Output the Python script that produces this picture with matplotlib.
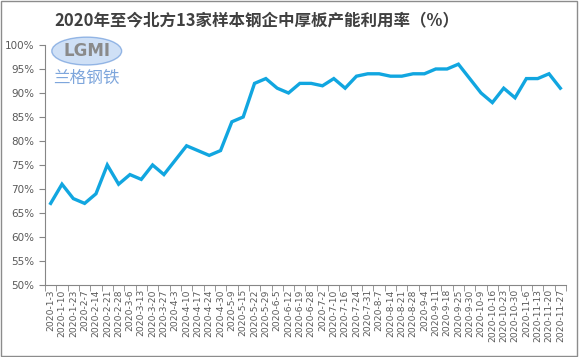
import numpy as np
import matplotlib.pyplot as plt
import matplotlib.patches as patches
from matplotlib.ticker import FuncFormatter

dates = ["1-3", "1-10", "1-23", "2-7", "2-14", "2-21", "2-28", "3-6", "3-13", "3-20",
         "3-27", "4-3", "4-10", "4-17", "4-24", "4-30", "5-9", "5-15", "5-22", "5-29",
         "6-5", "6-12", "6-19", "6-28", "7-2", "7-10", "7-16", "7-24", "7-31", "8-7",
         "8-14", "8-21", "8-28", "9-4", "9-11", "9-18", "9-25", "9-30", "10-9", "10-16",
         "10-23", "10-30", "11-6", "11-13", "11-20", "11-27"]
labels = ["2020-" + d for d in dates]
rate = [67, 71, 68, 67, 69, 75, 71, 73, 72, 75,
        73, 76, 79, 78, 77, 78, 84, 85, 92, 93,
        91, 90, 92, 92, 91.5, 93, 91, 93.5, 94, 94,
        93.5, 93.5, 94, 94, 95, 95, 96, 93, 90, 88,
        91, 89, 93, 93, 94, 91]

plt.rcParams['font.family'] = ['DejaVu Sans', 'Noto Sans CJK SC']

fig = plt.figure(figsize=(5.82, 3.57), dpi=100)
ax = fig.add_axes([0.0773, 0.2017, 0.8952, 0.6723])

x = np.arange(len(rate))
ax.plot(x, rate, color='#11a6e0', linewidth=2.4, solid_joinstyle='miter')

ax.set_xlim(-0.5, len(rate) - 0.5)
ax.set_ylim(50, 100)
ax.set_yticks(np.arange(50, 101, 5))
ax.yaxis.set_major_formatter(FuncFormatter(lambda v, p: f"{int(v)}%"))

ax.set_xticks(x)
ax.set_xticklabels(labels, rotation=90, fontsize=6.6, color='#595959')
ax.set_xticks(np.arange(-0.5, len(rate)), minor=True)
ax.tick_params(axis='x', which='major', length=0, pad=3)
ax.tick_params(axis='x', which='minor', length=4, color='#868686', direction='out')
ax.tick_params(axis='y', length=4, color='#868686', labelsize=7.5, labelcolor='#595959')

for s in ['top', 'right']:
    ax.spines[s].set_visible(False)
for s in ['left', 'bottom']:
    ax.spines[s].set_color('#868686')
    ax.spines[s].set_linewidth(0.8)

fig.text(0.442, 0.944, "2020年至今北方13家样本钢企中厚板产能利用率（%）",
         ha='center', va='center', fontsize=11.9, fontweight='bold', color='#404040',
         family=['Noto Sans CJK SC', 'DejaVu Sans'])

# watermark logo
logo = patches.Ellipse((0.149, 0.857), 0.12, 0.078, transform=fig.transFigure,
                       facecolor='#a9c8ef', edgecolor='#4f86d4', alpha=0.55, linewidth=1)
fig.patches.append(logo)
fig.text(0.149, 0.857, "LGMI", ha='center', va='center', fontsize=12, color='#8a8a8a',
         fontweight='bold')
fig.text(0.149, 0.78, "兰格钢铁", ha='center', va='center', fontsize=12, color='#7ea6dc',
         style='italic', family=['Noto Sans CJK SC', 'DejaVu Sans'])

border = patches.Rectangle((0.002, 0.003), 0.99, 0.994, transform=fig.transFigure,
                           fill=False, edgecolor='#8c8c8c', linewidth=1)
fig.patches.append(border)

fig.savefig('out.png', dpi=100)
